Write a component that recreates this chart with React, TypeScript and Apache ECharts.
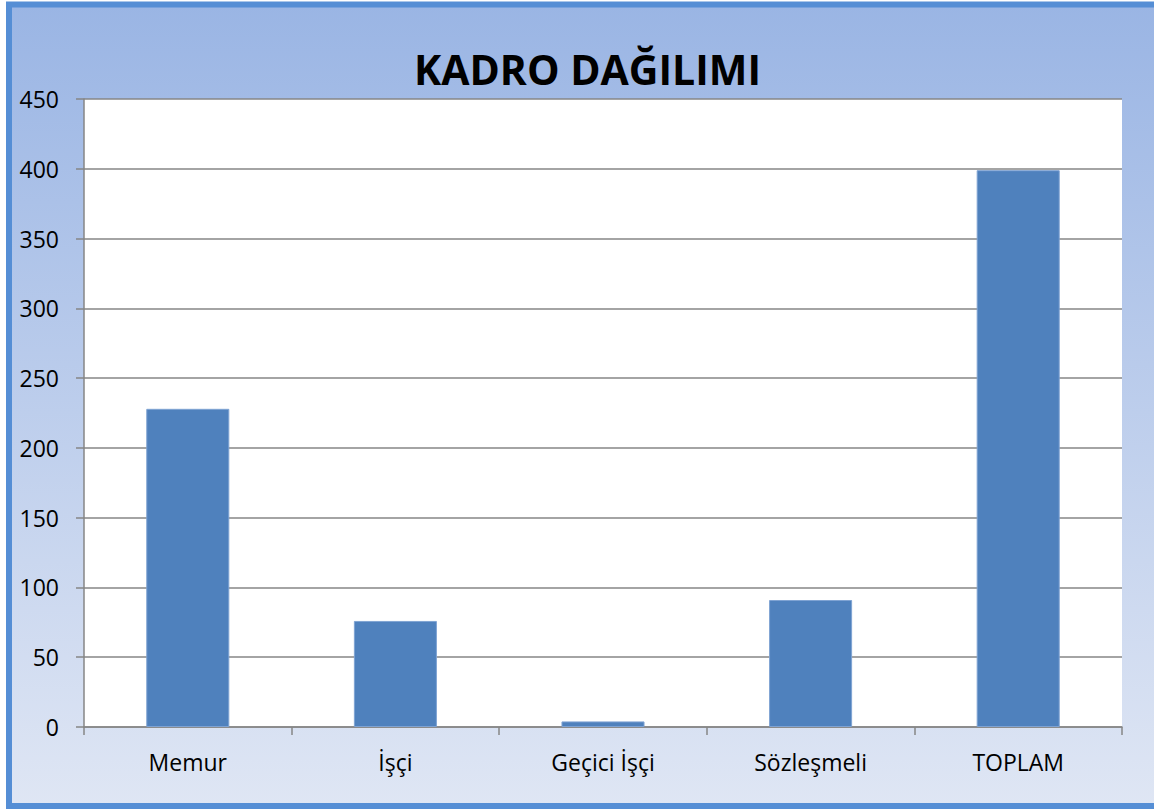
import React, { useEffect, useRef } from "react";
import * as echarts from "echarts";

const categories = ["Memur", "İşçi", "Geçici İşçi", "Sözleşmeli", "TOPLAM"];
const values = [228, 76, 4, 91, 399];
const yTicks = { min: 0, max: 450, interval: 50 };
const title = "KADRO DAĞILIMI";

export default function App() {
  const ref = useRef<HTMLDivElement>(null);
  useEffect(() => {
    if (!ref.current) return;
    const chart = echarts.init(ref.current, null, { renderer: "svg" });
    chart.setOption({
      animation: false,
      backgroundColor: "#ffffff",
      textStyle: { fontFamily: "Open Sans" },
      graphic: [
        {
          type: "rect",
          z: -10,
          silent: true,
          shape: { x: 9, y: 4.5, width: 1160, height: 801.5 },
          style: {
            fill: new echarts.graphic.LinearGradient(0, 0, 0, 1, [
              { offset: 0, color: "#9ab5e4" },
              { offset: 1, color: "#dfe6f4" },
            ]),
            stroke: "#558ed5",
            lineWidth: 6,
          },
        },
        {
          type: "rect",
          z: -5,
          silent: true,
          shape: { x: 84, y: 99, width: 1038, height: 628 },
          style: { fill: "#ffffff" },
        },
      ],
      title: {
        text: title,
        left: 409,
        top: 43,
        textStyle: {
          fontFamily: "Open Sans",
          fontWeight: "bold",
          fontSize: 41,
          color: "#000000",
        },
      },
      grid: { left: 84, right: 32, top: 99, bottom: 82, containLabel: false },
      xAxis: {
        type: "category",
        data: categories,
        axisLine: { show: true, lineStyle: { color: "#868686", width: 1.5 } },
        axisTick: { show: true, length: 8, lineStyle: { color: "#868686", width: 1.5 } },
        axisLabel: { color: "#000000", fontSize: 23, margin: 23, fontFamily: "Open Sans" },
      },
      yAxis: {
        type: "value",
        min: yTicks.min,
        max: yTicks.max,
        interval: yTicks.interval,
        axisLine: { show: true, lineStyle: { color: "#868686", width: 1.5 } },
        axisTick: { show: true, length: 8, lineStyle: { color: "#868686", width: 1.5 } },
        axisLabel: { color: "#000000", fontSize: 23, margin: 25, fontFamily: "Open Sans" },
        splitLine: { show: true, lineStyle: { color: "#868686", width: 1.5 } },
      },
      series: [
        {
          type: "bar",
          data: values,
          barWidth: "40%",
          itemStyle: { color: "#4f81bd", borderColor: "#7fa3d3", borderWidth: 1 },
        },
      ],
    });
    return () => chart.dispose();
  }, []);
  return (
    <div
      ref={ref}
      style={{ position: "fixed", left: 0, top: 0, width: 1154, height: 809 }}
    />
  );
}
